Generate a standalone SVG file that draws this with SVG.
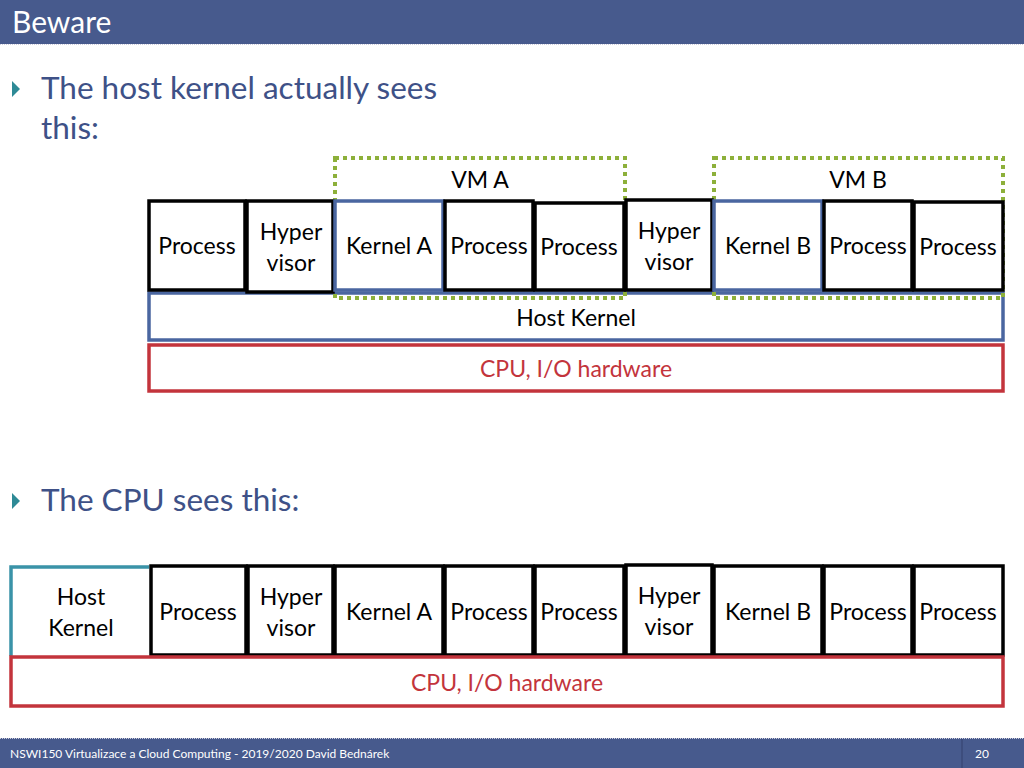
<svg xmlns="http://www.w3.org/2000/svg" width="1024" height="768" viewBox="0 0 1024 768">
<style>
text{font-family:Lato,"Open Sans","Liberation Sans",sans-serif}
.t{font-size:23px;fill:#000;text-anchor:middle}
.blk{fill:#fff;stroke:#000;stroke-width:3.5}
.blu{fill:#fff;stroke:#4a66a0;stroke-width:3.5}
.red{fill:#fff;stroke:#c3343c;stroke-width:3.5}
.vm{fill:none;stroke:#8db03a;stroke-width:4;stroke-dasharray:4 4}
.bul{font-size:31.5px;fill:#3e5187}
.rt{font-size:23px;fill:#c3343c;text-anchor:middle}
</style>
<rect x="0" y="0" width="1024" height="44" fill="#475a8d"/>
<line x1="0" y1="44.5" x2="1024" y2="44.5" stroke="#ccd" stroke-width="1" stroke-dasharray="1 1"/>
<text x="12" y="33" font-size="30" fill="#fff">Beware</text>
<polygon points="12,81 20,89 12,97" fill="#2e8a96"/>
<text class="bul" x="41" y="99">The host kernel actually sees</text>
<text class="bul" x="41" y="139">this:</text>
<g id="t-hk"><rect class="blu" x="149" y="293" width="854" height="47"/><text class="t" x="576" y="326">Host Kernel</text></g>
<g id="vmA"><rect class="vm" x="335" y="158" width="290" height="140"/><text class="t" x="480" y="188">VM A</text></g>
<g id="vmB"><rect class="vm" x="714" y="158" width="289" height="140"/><text class="t" x="858" y="188">VM B</text></g>
<g id="t-p1"><rect class="blk" x="149" y="201" width="96" height="89"/><text class="t" x="197" y="254">Process</text></g>
<g id="t-hv1"><rect class="blk" x="247" y="201" width="86" height="91"/><text class="t" x="291" y="240">Hyper</text><text class="t" x="291" y="271">visor</text></g>
<g id="t-ka"><rect class="blu" x="335" y="201" width="108" height="89"/><text class="t" x="389" y="254">Kernel A</text></g>
<g id="t-p2"><rect class="blk" x="445" y="201" width="88" height="89"/><text class="t" x="489" y="254">Process</text></g>
<g id="t-p3"><rect class="blk" x="535" y="203" width="89" height="87"/><text class="t" x="579" y="255">Process</text></g>
<g id="t-hv2"><rect class="blk" x="626" y="200" width="86" height="90"/><text class="t" x="669" y="239">Hyper</text><text class="t" x="669" y="270">visor</text></g>
<g id="t-kb"><rect class="blu" x="714" y="201" width="108" height="89"/><text class="t" x="768" y="254">Kernel B</text></g>
<g id="t-p4"><rect class="blk" x="824" y="201" width="88" height="89"/><text class="t" x="868" y="254">Process</text></g>
<g id="t-p5"><rect class="blk" x="914" y="202" width="89" height="88"/><text class="t" x="958" y="255">Process</text></g>
<g id="t-cpu"><rect class="red" x="149" y="345" width="854" height="46"/><text class="rt" x="576" y="377">CPU, I/O hardware</text></g>
<polygon points="12,493 20,501 12,509" fill="#2e8a96"/>
<text class="bul" x="41" y="511">The CPU sees this:</text>
<g id="b-hk"><path d="M11,656 V567 H149" fill="#fff" stroke="#3a93a8" stroke-width="3.5"/><text class="t" x="81" y="605">Host</text><text class="t" x="81" y="636">Kernel</text></g>
<g id="b-p1"><rect class="blk" x="151" y="566" width="95" height="89"/><text class="t" x="198" y="620">Process</text></g>
<g id="b-hv1"><rect class="blk" x="248" y="566" width="85" height="89"/><text class="t" x="291" y="605">Hyper</text><text class="t" x="291" y="636">visor</text></g>
<g id="b-ka"><rect class="blk" x="335" y="566" width="108" height="89"/><text class="t" x="389" y="620">Kernel A</text></g>
<g id="b-p2"><rect class="blk" x="445" y="566" width="88" height="89"/><text class="t" x="489" y="620">Process</text></g>
<g id="b-p3"><rect class="blk" x="535" y="566" width="89" height="89"/><text class="t" x="579" y="620">Process</text></g>
<g id="b-hv2"><rect class="blk" x="626" y="565" width="86" height="90"/><text class="t" x="669" y="604">Hyper</text><text class="t" x="669" y="635">visor</text></g>
<g id="b-kb"><rect class="blk" x="714" y="566" width="108" height="89"/><text class="t" x="768" y="620">Kernel B</text></g>
<g id="b-p4"><rect class="blk" x="824" y="566" width="88" height="89"/><text class="t" x="868" y="620">Process</text></g>
<g id="b-p5"><rect class="blk" x="914" y="566" width="89" height="89"/><text class="t" x="958" y="620">Process</text></g>
<g id="b-cpu"><rect class="red" x="11" y="657" width="992" height="49"/><text class="rt" x="507" y="691">CPU, I/O hardware</text></g>
<g id="connectors"/>
<rect x="0" y="738" width="1024" height="30" fill="#475a8d"/>
<line x1="0" y1="738.5" x2="1024" y2="738.5" stroke="#ccd" stroke-width="1" stroke-dasharray="1 1"/>
<line x1="962" y1="739" x2="962" y2="768" stroke="#3a4a78" stroke-width="1.5"/>
<text x="10" y="758" font-size="12" fill="#fff">NSWI150 Virtualizace a Cloud Computing - 2019/2020 David Bednárek</text>
<text x="975" y="758" font-size="12" fill="#fff">20</text>
</svg>
